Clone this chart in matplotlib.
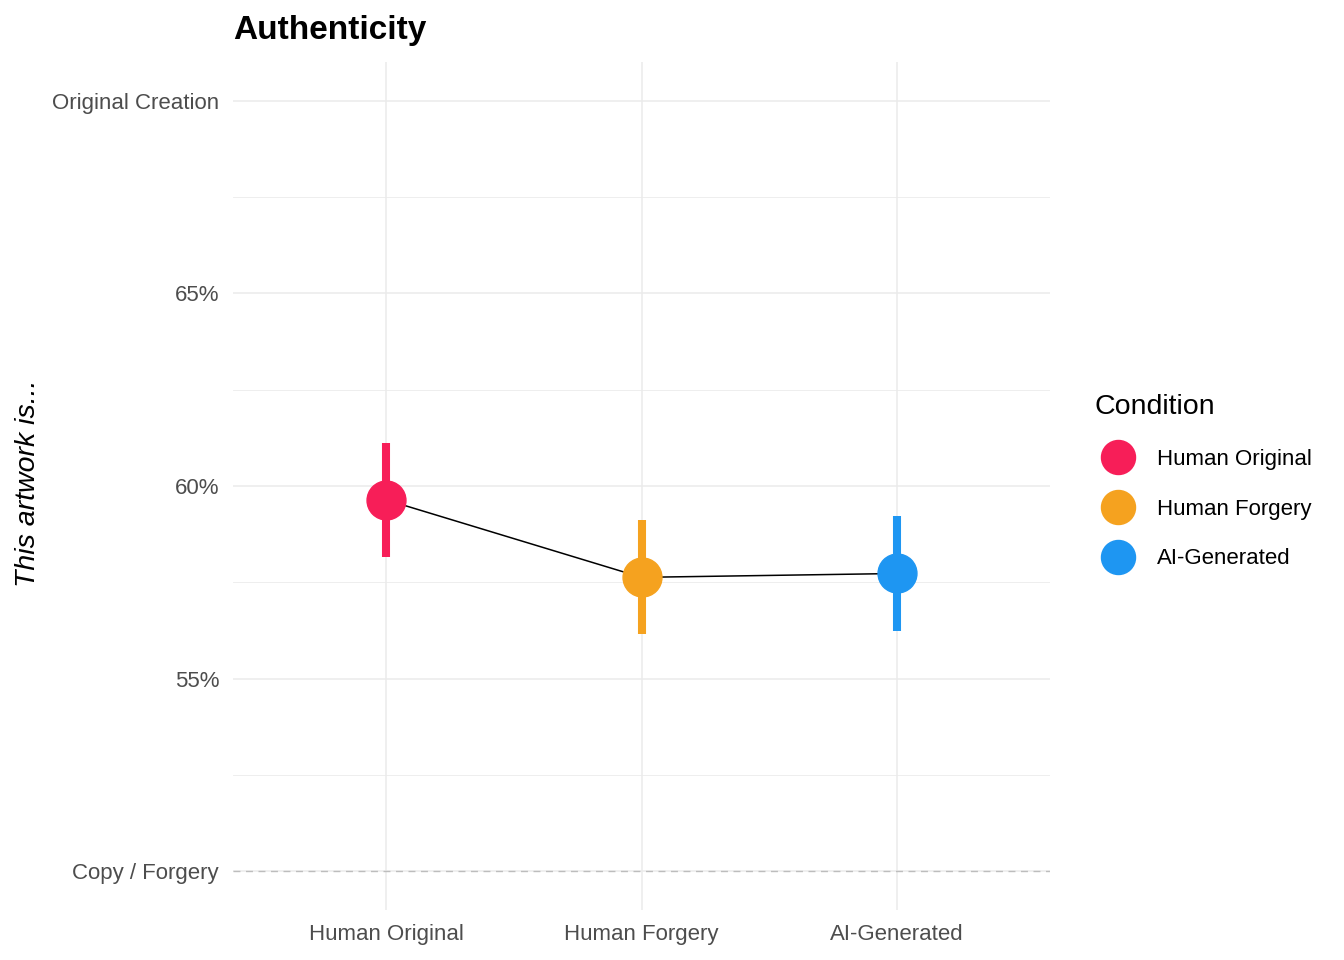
import matplotlib
matplotlib.use("Agg")
import matplotlib.pyplot as plt
from matplotlib.lines import Line2D

plt.rcParams['font.family'] = ['Liberation Sans', 'DejaVu Sans']

conditions = ["Human Original", "Human Forgery", "AI-Generated"]
means = [59.64, 57.63, 57.73]
lower = [58.15, 56.17, 56.25]
upper = [61.12, 59.11, 59.22]
colors = ["#F71E58", "#F5A21F", "#1E96F2"]
ytick_vals = [50, 55, 60, 65, 70]
ytick_labels = ["Copy / Forgery", "55%", "60%", "65%", "Original Creation"]
minor_vals = [52.5, 57.5, 62.5, 67.5]

W, H = 1344, 960
fig = plt.figure(figsize=(W/100, H/100), dpi=100)
ax = fig.add_axes([233/W, 1-910/H, (1050-233)/W, (910-62)/H])

xs = list(range(1, len(conditions)+1))
ax.set_xlim(0.4, 3.6)
ax.set_ylim(49, 71)

for y in ytick_vals:
    ax.axhline(y, color="#EBEBEB", lw=1.1, zorder=0)
for y in minor_vals:
    ax.axhline(y, color="#EBEBEB", lw=0.6, zorder=0)
for x in xs:
    ax.axvline(x, color="#EBEBEB", lw=1.1, zorder=0)
ax.axhline(50, color="#BDBDBD", lw=1.0, ls=(0, (5, 4)), zorder=1)

ax.plot(xs, means, color="black", lw=1.1, zorder=2)
for x, m, lo, hi, c in zip(xs, means, lower, upper, colors):
    ax.plot([x, x], [lo, hi], color=c, lw=5.8, solid_capstyle="butt", zorder=3)
    ax.plot([x], [m], marker="o", ms=28, color=c, mec=c, zorder=4)

ax.set_xticks(xs)
ax.set_xticklabels(conditions, fontsize=16, color="#4D4D4D")
ax.set_yticks(ytick_vals)
ax.set_yticklabels(ytick_labels, fontsize=16, color="#4D4D4D")
ax.tick_params(axis="y", length=0, pad=10)
ax.tick_params(axis="x", length=0, pad=10)
for s in ax.spines.values():
    s.set_visible(False)

fig.text(28/W, 1-483/H, "This artwork is...", fontsize=20.5, style="italic",
         rotation=90, va="center", ha="center")
fig.text(233/W, 1-31/H, "Authenticity", fontsize=24, fontweight="bold", va="center", ha="left")

# legend
fig.text(1095/W, 1-407/H, "Condition", fontsize=20.5, va="center", ha="left")
for i, (lab, c) in enumerate(zip(conditions, colors)):
    yy = 1 - (457 + 50*i)/H
    fig.add_artist(Line2D([1118/W], [yy], marker="o", ls="none", ms=24.5, color=c,
                          transform=fig.transFigure))
    fig.text(1157/W, yy - 2/H, lab, fontsize=16, va="center", ha="left")

fig.savefig("out.png", dpi=100)
